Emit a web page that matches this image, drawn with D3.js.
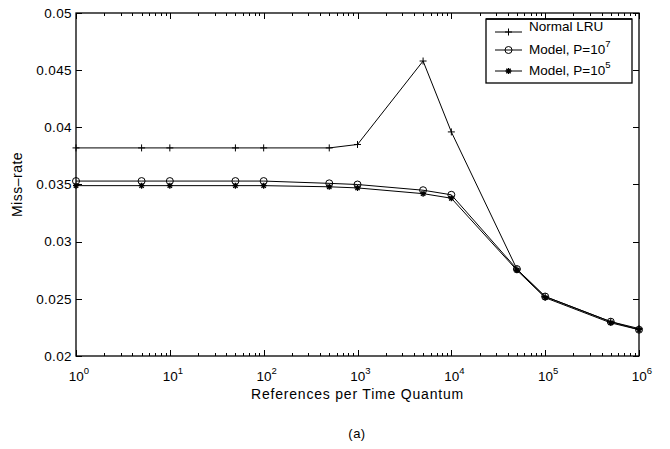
<!DOCTYPE html>
<html>
<head>
<meta charset="utf-8">
<script src="https://cdn.jsdelivr.net/npm/d3@7"></script>
<style>
  body { margin: 0; background: #fff; }
  text { font-family: "Liberation Sans", Arial, sans-serif; fill: #000; }
</style>
</head>
<body>
<div id="wrapper"></div>
<script>
const refsPerQuantum = [1, 5, 10, 50, 100, 500, 1000, 5000, 10000, 50000, 100000, 500000, 1000000]
const normalLru = [0.0382, 0.0382, 0.0382, 0.0382, 0.0382, 0.0382, 0.0385, 0.0458, 0.0396, 0.0276, 0.0252, 0.0230, 0.0224]
const modelP7 = [0.0353, 0.0353, 0.0353, 0.0353, 0.0353, 0.0351, 0.0350, 0.0345, 0.0341, 0.0276, 0.0252, 0.0230, 0.0223]
const modelP5 = [0.0349, 0.0349, 0.0349, 0.0349, 0.0349, 0.0348, 0.0347, 0.0342, 0.0338, 0.0275, 0.0251, 0.0229, 0.0223]
const yTicks = [0.02, 0.025, 0.03, 0.035, 0.04, 0.045, 0.05]
const xTicks = [1, 10, 100, 1000, 10000, 100000, 1000000]
const seriesNames = ["Normal LRU", "Model, P=10", "Model, P=10"]
const seriesExp = ["", "7", "5"]

let dimensions = {
  width: 670,
  height: 449,
  margin: { top: 13, right: 31, bottom: 93, left: 76 },
}
dimensions.boundedWidth = dimensions.width - dimensions.margin.left - dimensions.margin.right
dimensions.boundedHeight = dimensions.height - dimensions.margin.top - dimensions.margin.bottom

const wrapper = d3.select("#wrapper")
  .append("svg")
    .attr("width", dimensions.width)
    .attr("height", dimensions.height)

const bounds = wrapper.append("g")
    .attr("transform", `translate(${dimensions.margin.left},${dimensions.margin.top})`)

const xScale = d3.scaleLog()
    .domain([1, 1e6])
    .range([0, dimensions.boundedWidth])
const yScale = d3.scaleLinear()
    .domain([0.02, 0.05])
    .range([dimensions.boundedHeight, 0])

// minor log ticks
const minorTicks = []
for (let e = 0; e < 6; e++) {
  for (let m = 2; m <= 9; m++) minorTicks.push(m * Math.pow(10, e))
}

const tickG = bounds.append("g").attr("stroke", "#000").attr("stroke-width", 1)
minorTicks.forEach(v => {
  const x = Math.round(xScale(v)) + 0.5
  tickG.append("line").attr("x1", x).attr("x2", x).attr("y1", dimensions.boundedHeight).attr("y2", dimensions.boundedHeight - 3)
  tickG.append("line").attr("x1", x).attr("x2", x).attr("y1", 0).attr("y2", 3)
})
xTicks.forEach(v => {
  const x = Math.round(xScale(v)) + 0.5
  tickG.append("line").attr("x1", x).attr("x2", x).attr("y1", dimensions.boundedHeight).attr("y2", dimensions.boundedHeight - 6)
  tickG.append("line").attr("x1", x).attr("x2", x).attr("y1", 0).attr("y2", 6)
})
yTicks.forEach(v => {
  const y = Math.round(yScale(v)) + 0.5
  tickG.append("line").attr("x1", 0).attr("x2", 6).attr("y1", y).attr("y2", y)
  tickG.append("line").attr("x1", dimensions.boundedWidth).attr("x2", dimensions.boundedWidth - 6).attr("y1", y).attr("y2", y)
})

// tick labels
const yLabels = bounds.append("g")
yTicks.forEach(v => {
  yLabels.append("text")
    .attr("x", -4)
    .attr("y", yScale(v))
    .attr("dy", "0.35em")
    .attr("text-anchor", "end")
    .attr("font-size", 13.5)
    .attr("letter-spacing", 0.4)
    .text(d3.format("")(v))
})
const xLabels = bounds.append("g")
xTicks.forEach(v => {
  const t = xLabels.append("text")
    .attr("x", xScale(v) + 3)
    .attr("y", dimensions.boundedHeight + 25)
    .attr("text-anchor", "middle")
    .attr("font-size", 13.5)
  t.append("tspan").text("10")
  t.append("tspan").attr("dy", -7).attr("font-size", 9.5).text(Math.round(Math.log10(v)))
})

// lines
const lineGenerator = ys => d3.line()
    .x((d, i) => xScale(refsPerQuantum[i]))
    .y(d => yScale(d))(ys)

const allSeries = [normalLru, modelP7, modelP5]
allSeries.forEach(ys => {
  bounds.append("path")
    .attr("d", lineGenerator(ys))
    .attr("fill", "none")
    .attr("stroke", "#000")
    .attr("stroke-width", 1)
})

function drawMarker(g, type, x, y) {
  if (type === 0) {
    g.append("path").attr("d", `M${x-3.5},${y}H${x+3.5}M${x},${y-3.5}V${y+3.5}`)
      .attr("stroke", "#000").attr("fill", "none")
  } else if (type === 1) {
    g.append("circle").attr("cx", x).attr("cy", y).attr("r", 3.5)
      .attr("stroke", "#000").attr("fill", "none")
  } else {
    g.append("path").attr("d", `M${x-3},${y}H${x+3}M${x},${y-3}V${y+3}M${x-2.2},${y-2.2}L${x+2.2},${y+2.2}M${x-2.2},${y+2.2}L${x+2.2},${y-2.2}`)
      .attr("stroke", "#000").attr("stroke-width", 1.3).attr("fill", "none")
  }
}

const markerG = bounds.append("g")
allSeries.forEach((ys, s) => {
  ys.forEach((v, i) => drawMarker(markerG, s, xScale(refsPerQuantum[i]), yScale(v)))
})

// frame
bounds.append("rect")
  .attr("x", 0).attr("y", 0)
  .attr("width", dimensions.boundedWidth)
  .attr("height", dimensions.boundedHeight)
  .attr("fill", "none")
  .attr("stroke", "#000")
  .attr("stroke-width", 1.3)

// legend
const legend = bounds.append("g").attr("transform", `translate(${486 - dimensions.margin.left},${19 - dimensions.margin.top})`)
legend.append("rect")
  .attr("width", 146).attr("height", 64)
  .attr("fill", "#fff").attr("stroke", "#000").attr("stroke-width", 1.3)
const rowY = [13, 31, 52]
const textY = [7, 30, 51]
seriesNames.forEach((name, i) => {
  legend.append("line")
    .attr("x1", 9).attr("x2", 36)
    .attr("y1", rowY[i]).attr("y2", rowY[i])
    .attr("stroke", "#000")
  drawMarker(legend, i, 22.5, rowY[i])
  const t = legend.append("text")
    .attr("x", 43).attr("y", textY[i])
    .attr("dy", "0.35em")
    .attr("font-size", 13.5)
  t.append("tspan").text(name)
  if (seriesExp[i]) t.append("tspan").attr("dy", -7).attr("font-size", 9.5).text(seriesExp[i])
})
// keep the box's top edge over the first entry, as in the source figure
legend.append("line")
  .attr("x1", 0).attr("x2", 146).attr("y1", 0).attr("y2", 0)
  .attr("stroke", "#000").attr("stroke-width", 1.3)

// axis titles
bounds.append("text")
  .attr("x", dimensions.boundedWidth / 2)
  .attr("y", dimensions.boundedHeight + 43)
  .attr("text-anchor", "middle")
  .attr("font-size", 14)
  .attr("letter-spacing", 0.8)
  .text("References per Time Quantum")

bounds.append("text")
  .attr("transform", `translate(-54,${dimensions.boundedHeight / 2}) rotate(-90)`)
  .attr("text-anchor", "middle")
  .attr("font-size", 14)
  .attr("letter-spacing", 0.5)
  .text("Miss\u2013rate")

wrapper.append("text")
  .attr("x", 357)
  .attr("y", 438)
  .attr("text-anchor", "middle")
  .attr("font-size", 13)
  .attr("letter-spacing", 0.5)
  .text("(a)")
</script>
</body>
</html>
